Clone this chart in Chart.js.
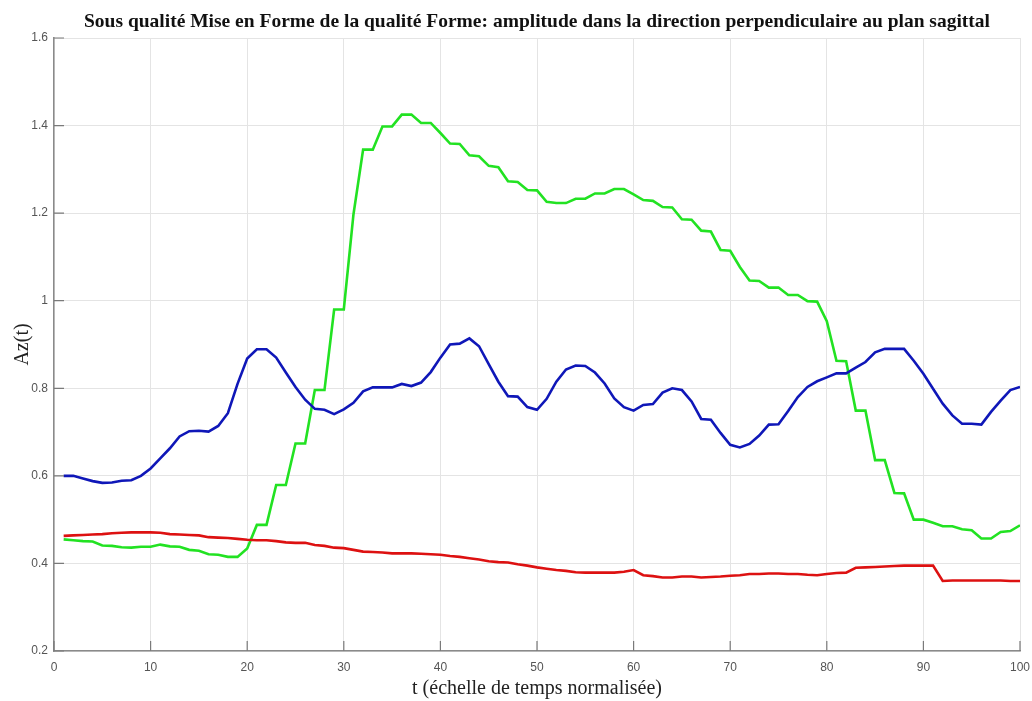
<!DOCTYPE html>
<html>
<head>
<meta charset="utf-8">
<script src="https://cdn.jsdelivr.net/npm/chart.js@4.4.1/dist/chart.umd.min.js"></script>
<style>
  body { margin: 0; background: #fff; }
  canvas { display: block; }
</style>
</head>
<body>
<canvas id="chart" width="1032" height="701"></canvas>
<script>
// ==========================================
// DATA
// ==========================================

// normalised time steps
const t_values = [
    1, 2, 3, 4, 5, 6, 7, 8, 9, 10, 11, 12, 13, 14, 15, 16, 17, 18, 19, 20,
    21, 22, 23, 24, 25, 26, 27, 28, 29, 30, 31, 32, 33, 34, 35, 36, 37, 38, 39, 40,
    41, 42, 43, 44, 45, 46, 47, 48, 49, 50, 51, 52, 53, 54, 55, 56, 57, 58, 59, 60,
    61, 62, 63, 64, 65, 66, 67, 68, 69, 70, 71, 72, 73, 74, 75, 76, 77, 78, 79, 80,
    81, 82, 83, 84, 85, 86, 87, 88, 89, 90, 91, 92, 93, 94, 95, 96, 97, 98, 99, 100
];

// green curve
const green_values = [
    0.455, 0.453, 0.451, 0.450, 0.441, 0.440, 0.437, 0.436, 0.438, 0.438,
    0.443, 0.439, 0.438, 0.431, 0.429, 0.421, 0.420, 0.415, 0.415, 0.434,
    0.488, 0.488, 0.579, 0.579, 0.674, 0.674, 0.796, 0.796, 0.980, 0.980,
    1.197, 1.345, 1.345, 1.398, 1.398, 1.425, 1.425, 1.406, 1.406, 1.383,
    1.359, 1.358, 1.332, 1.330, 1.308, 1.305, 1.273, 1.271, 1.253, 1.252,
    1.226, 1.223, 1.223, 1.233, 1.233, 1.245, 1.245, 1.255, 1.255, 1.243,
    1.230, 1.228, 1.214, 1.213, 1.186, 1.185, 1.160, 1.158, 1.116, 1.114,
    1.077, 1.046, 1.045, 1.030, 1.030, 1.013, 1.013, 0.999, 0.998, 0.953,
    0.863, 0.862, 0.749, 0.749, 0.636, 0.636, 0.561, 0.560, 0.500, 0.500,
    0.493, 0.485, 0.485, 0.478, 0.476, 0.457, 0.457, 0.472, 0.474, 0.487
];

// blue curve
const blue_values = [
    0.600, 0.600, 0.594, 0.588, 0.584, 0.585, 0.589, 0.590, 0.600, 0.617,
    0.640, 0.663, 0.690, 0.702, 0.703, 0.701, 0.714, 0.743, 0.810, 0.868,
    0.889, 0.889, 0.870, 0.836, 0.803, 0.774, 0.753, 0.751, 0.741, 0.752,
    0.767, 0.793, 0.802, 0.802, 0.802, 0.810, 0.805, 0.813, 0.837, 0.870,
    0.900, 0.902, 0.914, 0.896, 0.855, 0.815, 0.782, 0.781, 0.757, 0.751,
    0.776, 0.815, 0.843, 0.852, 0.851, 0.836, 0.811, 0.777, 0.757, 0.749,
    0.762, 0.764, 0.790, 0.800, 0.796, 0.770, 0.730, 0.728, 0.698, 0.671,
    0.665, 0.673, 0.692, 0.717, 0.718, 0.748, 0.780, 0.803, 0.816, 0.825,
    0.834, 0.834, 0.847, 0.860, 0.882, 0.890, 0.890, 0.890, 0.863, 0.833,
    0.799, 0.765, 0.738, 0.719, 0.719, 0.717, 0.746, 0.772, 0.796, 0.803
];

// red curve
const red_values = [
    0.463, 0.464, 0.465, 0.466, 0.467, 0.469, 0.470, 0.471, 0.471, 0.471,
    0.470, 0.467, 0.466, 0.465, 0.464, 0.460, 0.459, 0.458, 0.456, 0.454,
    0.453, 0.453, 0.451, 0.448, 0.447, 0.447, 0.442, 0.440, 0.436, 0.435,
    0.431, 0.427, 0.426, 0.425, 0.423, 0.423, 0.423, 0.422, 0.421, 0.420,
    0.417, 0.415, 0.412, 0.409, 0.405, 0.403, 0.402, 0.398, 0.395, 0.391,
    0.388, 0.385, 0.383, 0.380, 0.379, 0.379, 0.379, 0.379, 0.381, 0.385,
    0.373, 0.371, 0.368, 0.368, 0.370, 0.370, 0.368, 0.369, 0.370, 0.372,
    0.373, 0.376, 0.376, 0.377, 0.377, 0.376, 0.376, 0.374, 0.373, 0.376,
    0.378, 0.379, 0.390, 0.391, 0.392, 0.393, 0.394, 0.395, 0.395, 0.395,
    0.395, 0.360, 0.361, 0.361, 0.361, 0.361, 0.361, 0.361, 0.360, 0.360
];

// tick values
const x_ticks = [0, 10, 20, 30, 40, 50, 60, 70, 80, 90, 100];
const y_ticks = [0.2, 0.4, 0.6, 0.8, 1, 1.2, 1.4, 1.6];

const chart_title = 'Sous qualité Mise en Forme de la qualité Forme: amplitude dans la direction perpendiculaire au plan sagittal';

// ==========================================
// CHART
// ==========================================
function toPoints(values) {
    return values.map((v, i) => ({ x: t_values[i], y: v }));
}

function makeLine(values, color) {
    return {
        data: toPoints(values),
        borderColor: color,
        borderWidth: 2.6,
        pointRadius: 0,
        tension: 0,
        fill: false
    };
}

// small tick marks pointing inside the plot, like the original figure
const innerTicks = {
    id: 'innerTicks',
    afterDraw(chart) {
        const ctx = chart.ctx;
        const xs = chart.scales.x;
        const ys = chart.scales.y;
        const area = chart.chartArea;
        ctx.save();
        ctx.strokeStyle = '#7a7a7a';
        ctx.lineWidth = 1.2;
        ctx.beginPath();
        x_ticks.forEach(v => {
            const px = xs.getPixelForValue(v);
            ctx.moveTo(px, area.bottom);
            ctx.lineTo(px, area.bottom - 10);
        });
        y_ticks.forEach(v => {
            const py = ys.getPixelForValue(v);
            ctx.moveTo(area.left, py);
            ctx.lineTo(area.left + 10, py);
        });
        ctx.stroke();
        ctx.restore();
    }
};

const tickFont = { family: 'Liberation Sans', size: 12 };
const serif = 'Liberation Serif';

new Chart(document.getElementById('chart'), {
    type: 'line',
    data: {
        datasets: [
            makeLine(red_values, '#dd1111'),
            makeLine(blue_values, '#0f17b8'),
            makeLine(green_values, '#22e222')
        ]
    },
    options: {
        responsive: false,
        animation: false,
        layout: { padding: { left: 0, right: 12, top: 0, bottom: 0 } },
        plugins: {
            legend: { display: false },
            tooltip: { enabled: false },
            title: { display: false }
        },
        scales: {
            x: {
                type: 'linear',
                min: 0,
                max: 100,
                afterBuildTicks: s => { s.ticks = x_ticks.map(v => ({ value: v })); },
                afterFit: s => { s.height = 50; s.paddingRight = 0; s.paddingLeft = 0; },
                ticks: { font: tickFont, color: '#555', padding: 9, maxRotation: 0 },
                grid: { color: '#e4e4e4', lineWidth: 1, drawTicks: false },
                border: { color: '#8a8a8a', width: 1.5 },
                title: {
                    display: true,
                    text: 't (échelle de temps normalisée)',
                    font: { family: serif, size: 20 },
                    color: '#222',
                    padding: { top: 0, bottom: 0 }
                }
            },
            // top scale only carries the title, so it is centred on the plot
            top: {
                type: 'linear',
                position: 'top',
                min: 0,
                max: 100,
                afterFit: s => { s.height = 38; s.paddingRight = 0; s.paddingLeft = 0; },
                ticks: { display: false },
                grid: { display: false, drawTicks: false },
                border: { display: false },
                title: {
                    display: true,
                    text: chart_title,
                    font: { family: serif, size: 19.5, weight: 'bold' },
                    color: '#111',
                    padding: { top: 10, bottom: 0 }
                }
            },
            y: {
                type: 'linear',
                min: 0.2,
                max: 1.6,
                afterBuildTicks: s => { s.ticks = y_ticks.map(v => ({ value: v })); },
                afterFit: s => { s.width = 54; },
                ticks: {
                    font: tickFont,
                    color: '#555',
                    padding: 6,
                    callback: v => String(v)
                },
                grid: { color: '#e4e4e4', lineWidth: 1, drawTicks: false },
                border: { color: '#8a8a8a', width: 1.5 },
                title: {
                    display: true,
                    text: 'Az(t)',
                    font: { family: serif, size: 20 },
                    color: '#222',
                    padding: { top: 11, bottom: 0 }
                }
            }
        }
    },
    plugins: [innerTicks]
});
</script>
</body>
</html>
